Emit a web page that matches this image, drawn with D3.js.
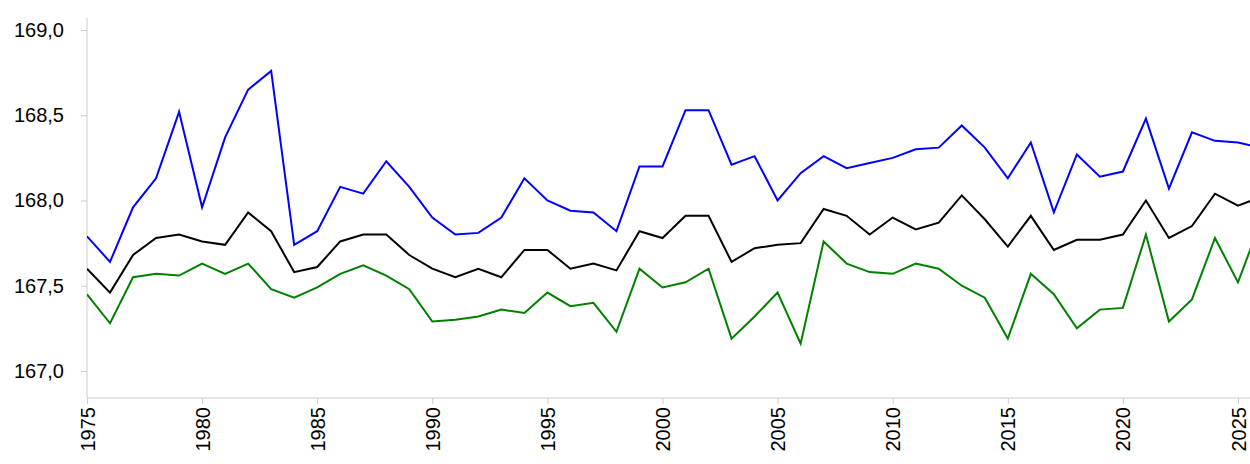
<!DOCTYPE html>
<html><head><meta charset="utf-8">
<script src="https://cdn.jsdelivr.net/npm/d3@7"></script>
<style>body{margin:0;background:#fff}svg{display:block}</style>
</head><body><svg id="c" width="1250" height="464"></svg>
<script>
const years = d3.range(1975, 2027);
const blue = [167.79,167.64,167.96,168.13,168.52,167.96,168.37,168.65,168.76,167.74,167.82,168.08,168.04,168.23,168.08,167.90,167.80,167.81,167.90,168.13,168.00,167.94,167.93,167.82,168.20,168.20,168.53,168.53,168.21,168.26,168.00,168.16,168.26,168.19,168.22,168.25,168.30,168.31,168.44,168.31,168.13,168.34,167.93,168.27,168.14,168.17,168.48,168.07,168.40,168.35,168.34,168.31];
const black = [167.60,167.46,167.68,167.78,167.80,167.76,167.74,167.93,167.82,167.58,167.61,167.76,167.80,167.80,167.68,167.60,167.55,167.60,167.55,167.71,167.71,167.60,167.63,167.59,167.82,167.78,167.91,167.91,167.64,167.72,167.74,167.75,167.95,167.91,167.80,167.90,167.83,167.87,168.03,167.89,167.73,167.91,167.71,167.77,167.77,167.80,168.00,167.78,167.85,168.04,167.97,168.02];
const green = [167.45,167.28,167.55,167.57,167.56,167.63,167.57,167.63,167.48,167.43,167.49,167.57,167.62,167.56,167.48,167.29,167.30,167.32,167.36,167.34,167.46,167.38,167.40,167.23,167.60,167.49,167.52,167.60,167.19,167.32,167.46,167.16,167.76,167.63,167.58,167.57,167.63,167.60,167.50,167.43,167.19,167.57,167.45,167.25,167.36,167.37,167.80,167.29,167.42,167.78,167.52,167.88];
const yTicks = [167.0,167.5,168.0,168.5,169.0];
const xTicks = d3.range(1975, 2026, 5);

const svg = d3.select('#c');
const x = d3.scaleLinear().domain([1975, 2025]).range([87, 1238]);
const y = d3.scaleLinear().domain([167, 169]).range([371, 30]);
const fmt = d => d.toFixed(1).replace('.', ',');

const ya = svg.append('g').attr('transform','translate(87,0)')
  .call(d3.axisLeft(y).tickValues(yTicks).tickFormat(fmt).tickSize(6).tickSizeOuter(0));
ya.select('.domain').attr('d','M0,18V398').attr('stroke','#ccc');
ya.selectAll('.tick line').attr('stroke','#ccc');
ya.selectAll('text').attr('font-family','Liberation Sans, Arial, sans-serif').attr('font-size',20).attr('fill','#000').attr('dx',-14);

const xa = svg.append('g').attr('transform','translate(0,398)')
  .call(d3.axisBottom(x).tickValues(xTicks).tickFormat(d3.format('d')).tickSize(6).tickSizeOuter(0));
xa.select('.domain').attr('d','M87,0H1250').attr('stroke','#ccc');
xa.selectAll('.tick line').attr('stroke','#ccc');
xa.selectAll('text').attr('font-family','Liberation Sans, Arial, sans-serif').attr('font-size',20).attr('fill','#000')
  .attr('transform','rotate(-90)').attr('text-anchor','end').attr('x',-9).attr('y',0).attr('dy','0.35em');

svg.append('clipPath').attr('id','cp').append('rect').attr('x',87).attr('y',0).attr('width',1163).attr('height',464);
const line = d3.line().x((d,i)=>x(years[i])).y(d=>y(d));
const g = svg.append('g').attr('clip-path','url(#cp)');
[[blue,'#0000ff'],[black,'#000'],[green,'#008000']].forEach(([s,c])=>{
  g.append('path').datum(s).attr('d',line).attr('fill','none').attr('stroke',c).attr('stroke-width',2);
});
</script></body></html>
